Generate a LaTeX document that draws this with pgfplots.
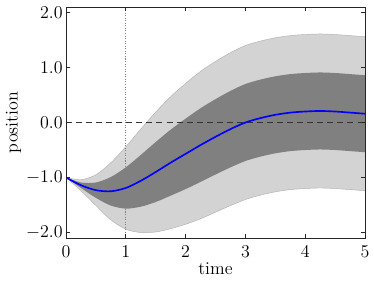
\documentclass[12pt,border=0pt]{standalone}
\usepackage{pgfplots}
\pgfplotsset{compat=1.18}
\usepackage{pgfplotstable}
\usepgfplotslibrary{fillbetween}
\definecolor{lightband}{RGB}{211,211,211}
\definecolor{darkband}{RGB}{128,128,128}
\pgfplotstableread{
x     m      u1      l1      u2     l2
0.00  -1.00  -1.00   -1.00   -1.00  -1.00
0.25  -1.14  -1.09   -1.19   -1.04  -1.24
0.50  -1.23  -1.09   -1.37   -0.95  -1.51
0.75  -1.25  -0.99   -1.51   -0.73  -1.77
1.00  -1.19  -0.815  -1.565  -0.44  -1.94
1.25  -1.06  -0.59   -1.53   -0.12  -2.00
1.50  -0.90  -0.355  -1.445   0.19  -1.99
1.75  -0.73  -0.13   -1.33    0.47  -1.93
2.00  -0.57   0.07   -1.21    0.71  -1.85
2.25  -0.41   0.26   -1.08    0.93  -1.75
2.50  -0.26   0.425  -0.945   1.11  -1.63
2.75  -0.12   0.575  -0.815   1.27  -1.51
3.00   0.00   0.70   -0.70    1.40  -1.40
3.25   0.08   0.78   -0.62    1.48  -1.32
3.50   0.14   0.84   -0.56    1.54  -1.26
3.75   0.18   0.88   -0.52    1.58  -1.22
4.00   0.20   0.90   -0.50    1.60  -1.20
4.25   0.21   0.91   -0.49    1.61  -1.19
4.50   0.20   0.90   -0.50    1.60  -1.20
4.75   0.18   0.88   -0.52    1.58  -1.22
5.00   0.16   0.86   -0.54    1.56  -1.24
}\data
\begin{document}
\begin{tikzpicture}
\begin{axis}[
  scale only axis,
  width=199.3pt, height=154pt,
  xmin=0, xmax=5, ymin=-2.1, ymax=2.1,
  xtick={0,1,2,3,4,5},
  ytick={-2,-1,0,1,2},
  yticklabel style={/pgf/number format/fixed,/pgf/number format/fixed zerofill,/pgf/number format/precision=1, inner sep=0pt, xshift=-2pt},
  xticklabel style={inner sep=0pt, yshift=-5.3pt},
  tick align=inside,
  xtick pos=both, ytick pos=both,
  major tick length=2.7pt,
  minor tick num=0,
  axis line style={line width=0.6pt, black!85},
  every tick/.style={line width=0.6pt, black!85},
  axis on top,
  xlabel={time}, ylabel={position},
  xlabel style={at={(axis description cs:0.5,-0.131)}, anchor=center, inner sep=0pt},
  ylabel style={at={(axis description cs:-0.1756,0.5)}, anchor=center, inner sep=0pt},
]
\addplot[draw=none, name path=U2, smooth] table[x=x, y=u2] {\data};
\addplot[draw=none, name path=L2, smooth] table[x=x, y=l2] {\data};
\addplot[draw=none, name path=U1, smooth] table[x=x, y=u1] {\data};
\addplot[draw=none, name path=L1, smooth] table[x=x, y=l1] {\data};
\addplot[lightband, draw=none] fill between[of=U2 and L2];
\addplot[darkband, draw=none] fill between[of=U1 and L1];
\addplot[black!30, line width=0.3pt, smooth] table[x=x, y=u2] {\data};
\addplot[black!30, line width=0.3pt, smooth] table[x=x, y=l2] {\data};
\addplot[black!80, line width=0.6pt, dash pattern=on 4pt off 2.7pt] coordinates {(0,0) (5,0)};
\addplot[black!50, line width=0.6pt, dash pattern=on 0.7pt off 1pt] coordinates {(1,-2.1) (1,2.1)};
\addplot[blue, line width=1.1pt, smooth] table[x=x, y=m] {\data};
\end{axis}
\pgfresetboundingbox
\path[use as bounding box] ([xshift=-44pt,yshift=-30pt]current axis.south west) rectangle ([xshift=6pt,yshift=4.67pt]current axis.north east);
\end{tikzpicture}
\end{document}
